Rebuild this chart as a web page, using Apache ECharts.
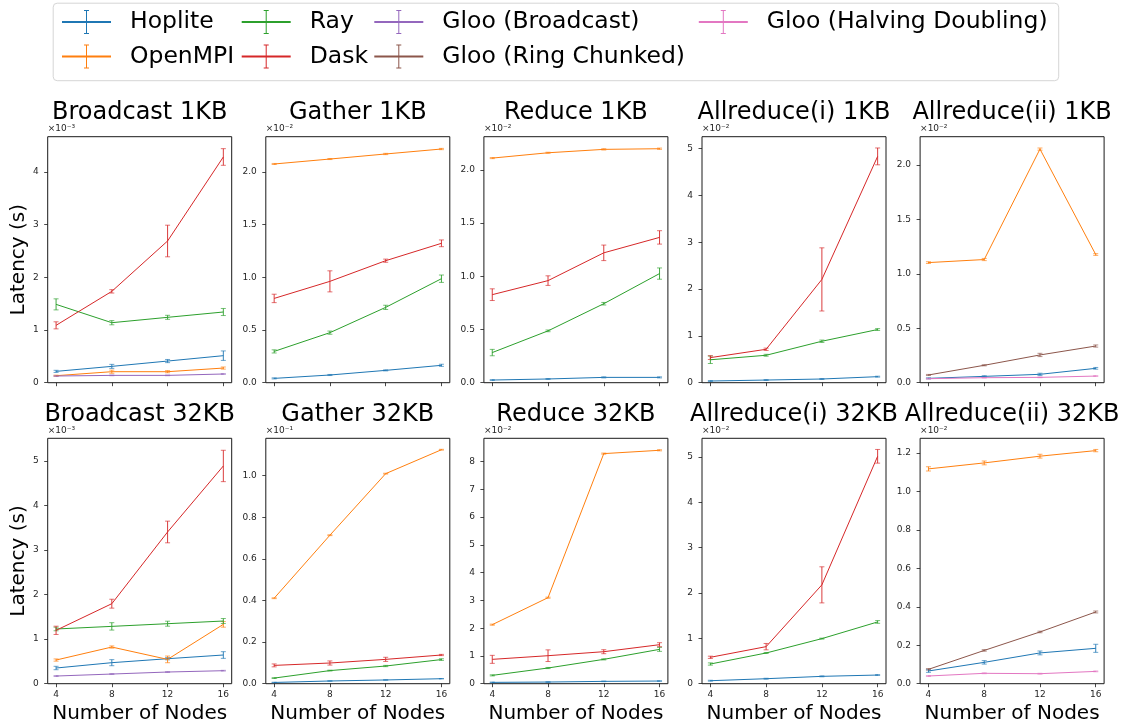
<!DOCTYPE html>
<html>
<head>
<meta charset="utf-8">
<script src="https://cdn.jsdelivr.net/npm/echarts@6/dist/echarts.min.js"></script>
<style>
  html, body { margin: 0; padding: 0; background: #ffffff; }
  #chart { width: 1128px; height: 727px; }
</style>
</head>
<body>
<div id="chart"></div>
<script>
// Node counts on the x axis of every panel
const nodes = [4, 8, 12, 16];

// Each panel: series names, mean latency and half-width of the error bar,
// both in units of the panel's power of ten (shown above its y axis).

// Broadcast 1KB (x1e-3 s)
const bc1Names = ['Hoplite', 'OpenMPI', 'Ray', 'Dask', 'Gloo (Broadcast)'];
const bc1Mean = [
  [0.215, 0.310, 0.411, 0.513],
  [0.133, 0.209, 0.209, 0.278],
  [1.487, 1.139, 1.241, 1.342],
  [1.089, 1.734, 2.690, 4.285],
  [0.127, 0.139, 0.139, 0.165]
];
const bc1Err = [
  [0.020, 0.038, 0.030, 0.090],
  [0.010, 0.030, 0.020, 0.020],
  [0.105, 0.040, 0.038, 0.067],
  [0.067, 0.032, 0.300, 0.158],
  [0.006, 0.006, 0.006, 0.006]
];

// Gather 1KB (x1e-2 s)
const ga1Names = ['Hoplite', 'OpenMPI', 'Ray', 'Dask'];
const ga1Mean = [
  [0.041, 0.073, 0.117, 0.165],
  [2.076, 2.123, 2.171, 2.218],
  [0.297, 0.475, 0.715, 0.987],
  [0.800, 0.962, 1.158, 1.323]
];
const ga1Err = [
  [0.005, 0.005, 0.005, 0.010],
  [0.005, 0.005, 0.006, 0.006],
  [0.015, 0.015, 0.020, 0.035],
  [0.040, 0.100, 0.015, 0.032]
];

// Reduce 1KB (x1e-2 s)
const re1Names = ['Hoplite', 'OpenMPI', 'Ray', 'Dask'];
const re1Mean = [
  [0.025, 0.035, 0.050, 0.050],
  [2.110, 2.160, 2.192, 2.198],
  [0.283, 0.487, 0.742, 1.025],
  [0.827, 0.959, 1.220, 1.365]
];
const re1Err = [
  [0.004, 0.004, 0.005, 0.005],
  [0.005, 0.005, 0.006, 0.006],
  [0.030, 0.008, 0.012, 0.053],
  [0.055, 0.045, 0.073, 0.063]
];

// Allreduce(i) 1KB (x1e-2 s)
const ar1s1Names = ['Hoplite', 'Ray', 'Dask'];
const ar1s1Mean = [
  [0.036, 0.057, 0.079, 0.129],
  [0.490, 0.586, 0.886, 1.136],
  [0.536, 0.714, 2.207, 4.836]
];
const ar1s1Err = [
  [0.010, 0.010, 0.010, 0.010],
  [0.080, 0.020, 0.025, 0.020],
  [0.040, 0.025, 0.675, 0.180]
];

// Allreduce(ii) 1KB (x1e-2 s)
const ar2s1Names = ['Hoplite', 'OpenMPI', 'Gloo (Ring Chunked)', 'Gloo (Halving Doubling)'];
const ar2s1Mean = [
  [0.040, 0.058, 0.077, 0.132],
  [1.104, 1.132, 2.147, 1.178],
  [0.071, 0.160, 0.255, 0.337],
  [0.037, 0.046, 0.049, 0.061]
];
const ar2s1Err = [
  [0.005, 0.006, 0.010, 0.008],
  [0.008, 0.010, 0.010, 0.008],
  [0.005, 0.005, 0.015, 0.010],
  [0.003, 0.003, 0.003, 0.003]
];

// Broadcast 32KB (x1e-3 s)
const bc32Names = ['Hoplite', 'OpenMPI', 'Ray', 'Dask', 'Gloo (Broadcast)'];
const bc32Mean = [
  [0.352, 0.472, 0.561, 0.644],
  [0.531, 0.823, 0.546, 1.332],
  [1.228, 1.287, 1.347, 1.407],
  [1.198, 1.796, 3.406, 4.888],
  [0.172, 0.217, 0.262, 0.292]
];
const bc32Err = [
  [0.038, 0.068, 0.025, 0.075],
  [0.025, 0.025, 0.075, 0.063],
  [0.040, 0.083, 0.056, 0.056],
  [0.093, 0.100, 0.243, 0.352],
  [0.008, 0.008, 0.008, 0.008]
];

// Gather 32KB (x1e-1 s)
const ga32Names = ['Hoplite', 'OpenMPI', 'Ray', 'Dask'];
const ga32Mean = [
  [0.006, 0.013, 0.018, 0.024],
  [0.411, 0.714, 1.010, 1.125],
  [0.027, 0.063, 0.085, 0.116],
  [0.088, 0.0995, 0.117, 0.138]
];
const ga32Err = [
  [0.001, 0.001, 0.001, 0.001],
  [0.002, 0.002, 0.002, 0.002],
  [0.002, 0.002, 0.003, 0.004],
  [0.007, 0.010, 0.010, 0.003]
];

// Reduce 32KB (x1e-2 s)
const re32Names = ['Hoplite', 'OpenMPI', 'Ray', 'Dask'];
const re32Mean = [
  [0.048, 0.060, 0.084, 0.096],
  [2.126, 3.099, 8.288, 8.408],
  [0.300, 0.565, 0.877, 1.237],
  [0.877, 1.009, 1.153, 1.405]
];
const re32Err = [
  [0.010, 0.010, 0.010, 0.010],
  [0.020, 0.020, 0.020, 0.020],
  [0.020, 0.020, 0.020, 0.072],
  [0.144, 0.210, 0.072, 0.072]
];

// Allreduce(i) 32KB (x1e-2 s)
const ar1s32Names = ['Hoplite', 'Ray', 'Dask'];
const ar1s32Mean = [
  [0.066, 0.110, 0.162, 0.191],
  [0.434, 0.677, 0.994, 1.362],
  [0.582, 0.817, 2.180, 5.015]
];
const ar1s32Err = [
  [0.010, 0.010, 0.010, 0.010],
  [0.025, 0.010, 0.010, 0.030],
  [0.025, 0.070, 0.398, 0.151]
];

// Allreduce(ii) 32KB (x1e-2 s)
const ar2s32Names = ['Hoplite', 'OpenMPI', 'Gloo (Ring Chunked)', 'Gloo (Halving Doubling)'];
const ar2s32Mean = [
  [0.066, 0.111, 0.160, 0.184],
  [1.117, 1.148, 1.183, 1.212],
  [0.0746, 0.173, 0.269, 0.373],
  [0.040, 0.054, 0.052, 0.064]
];
const ar2s32Err = [
  [0.007, 0.009, 0.010, 0.021],
  [0.011, 0.010, 0.010, 0.006],
  [0.004, 0.004, 0.004, 0.005],
  [0.002, 0.002, 0.002, 0.002]
];

// Y tick values per panel (in the panel's units)
const ticksInt5 = [0, 1, 2, 3, 4, 5];
const ticksHalf = [0, 0.5, 1.0, 1.5, 2.0];
const bc1Ticks = [0, 1, 2, 3, 4];
const ga32Ticks = [0, 0.2, 0.4, 0.6, 0.8, 1.0];
const re32Ticks = [0, 1, 2, 3, 4, 5, 6, 7, 8];
const ar2s32Ticks = [0, 0.2, 0.4, 0.6, 0.8, 1.0, 1.2];

// Panel order: top row 1KB, bottom row 32KB
const panels = [
  { title: 'Broadcast 1KB',     exp: -3, yMax: 4.67,  ticks: bc1Ticks,    names: bc1Names,    mean: bc1Mean,    err: bc1Err },
  { title: 'Gather 1KB',        exp: -2, yMax: 2.335, ticks: ticksHalf,   names: ga1Names,    mean: ga1Mean,    err: ga1Err },
  { title: 'Reduce 1KB',        exp: -2, yMax: 2.311, ticks: ticksHalf,   names: re1Names,    mean: re1Mean,    err: re1Err },
  { title: 'Allreduce(i) 1KB',  exp: -2, yMax: 5.257, ticks: ticksInt5,   names: ar1s1Names,  mean: ar1s1Mean,  err: ar1s1Err },
  { title: 'Allreduce(ii) 1KB', exp: -2, yMax: 2.261, ticks: ticksHalf,   names: ar2s1Names,  mean: ar2s1Mean,  err: ar2s1Err },
  { title: 'Broadcast 32KB',    exp: -3, yMax: 5.509, ticks: ticksInt5,   names: bc32Names,   mean: bc32Mean,   err: bc32Err },
  { title: 'Gather 32KB',       exp: -1, yMax: 1.180, ticks: ga32Ticks,   names: ga32Names,   mean: ga32Mean,   err: ga32Err },
  { title: 'Reduce 32KB',       exp: -2, yMax: 8.84,  ticks: re32Ticks,   names: re32Names,   mean: re32Mean,   err: re32Err },
  { title: 'Allreduce(i) 32KB', exp: -2, yMax: 5.412, ticks: ticksInt5,   names: ar1s32Names, mean: ar1s32Mean, err: ar1s32Err },
  { title: 'Allreduce(ii) 32KB',exp: -2, yMax: 1.276, ticks: ar2s32Ticks, names: ar2s32Names, mean: ar2s32Mean, err: ar2s32Err }
];

// Legend columns (filled top to bottom)
const legendColumns = [
  ['Hoplite', 'OpenMPI'],
  ['Ray', 'Dask'],
  ['Gloo (Broadcast)', 'Gloo (Ring Chunked)'],
  ['Gloo (Halving Doubling)']
];

const methodColors = {
  'Hoplite': '#1f77b4',
  'OpenMPI': '#ff7f0e',
  'Ray': '#2ca02c',
  'Dask': '#d62728',
  'Gloo (Broadcast)': '#9467bd',
  'Gloo (Ring Chunked)': '#8c564b',
  'Gloo (Halving Doubling)': '#e377c2'
};

// ---- layout ----
const FONT = 'DejaVu Sans';
const colLeft = [47.7, 265.8, 483.9, 702.0, 920.1];
const gridWidth = 184;
const rowTop = [136.7, 438.3];
const rowHeight = [246, 245.4];
const legendLeft = [62, 241.7, 374.3, 698.8];

const supDigits = { '-': '\u207B', '0': '\u2070', '1': '\u00B9', '2': '\u00B2', '3': '\u00B3',
  '4': '\u2074', '5': '\u2075', '6': '\u2076', '7': '\u2077', '8': '\u2078', '9': '\u2079' };
function powerLabel(exp) {
  return '\u00D710' + String(exp).split('').map(c => supDigits[c]).join('');
}

// Vertical error bar with caps, drawn through the panel's own axes
function renderErrorBar(params, api) {
  const x = api.value(0);
  const hi = api.coord([x, api.value(2)]);
  const lo = api.coord([x, api.value(1)]);
  const color = api.visual('color');
  const hw = 2.5;
  const barStyle = { stroke: color, lineWidth: 1, opacity: 0.9 };
  const capStyle = { stroke: color, lineWidth: 1, opacity: 0.65 };
  return {
    type: 'group',
    children: [
      { type: 'line', shape: { x1: hi[0], y1: hi[1], x2: lo[0], y2: lo[1] }, style: barStyle },
      { type: 'line', shape: { x1: hi[0] - hw, y1: hi[1], x2: hi[0] + hw, y2: hi[1] }, style: capStyle },
      { type: 'line', shape: { x1: lo[0] - hw, y1: lo[1], x2: lo[0] + hw, y2: lo[1] }, style: capStyle }
    ]
  };
}

const grids = [], xAxes = [], yAxes = [], titles = [], series = [];

panels.forEach((p, i) => {
  const row = Math.floor(i / 5), col = i % 5;
  grids.push({
    left: colLeft[col], top: rowTop[row], width: gridWidth, height: rowHeight[row],
    show: true, borderColor: '#1a1a1a', borderWidth: 1, containLabel: false
  });
  const decimals = p.ticks.some(v => Math.round(v) !== v) ? 1 : 0;
  xAxes.push({
    type: 'value', gridIndex: i, min: 3.4, max: 16.6,
    axisLine: { show: false },
    splitLine: { show: false },
    axisTick: { show: true, length: 3.5, customValues: nodes, lineStyle: { color: '#1a1a1a', width: 0.8 } },
    axisLabel: {
      show: row === 1, customValues: nodes, margin: 6,
      fontFamily: FONT, fontSize: 9, color: '#262626'
    },
    name: row === 1 ? 'Number of Nodes' : '',
    nameLocation: 'middle', nameGap: 20,
    nameTextStyle: { fontFamily: FONT, fontSize: 20, color: '#000' }
  });
  yAxes.push({
    type: 'value', gridIndex: i, min: 0, max: p.yMax,
    axisLine: { show: false },
    splitLine: { show: false },
    axisTick: { show: true, length: 3.5, customValues: p.ticks, lineStyle: { color: '#1a1a1a', width: 0.8 } },
    axisLabel: {
      customValues: p.ticks, margin: 9,
      fontFamily: FONT, fontSize: 9, color: '#262626',
      formatter: v => Number(v).toFixed(decimals)
    },
    name: col === 0 ? 'Latency (s)' : '',
    nameLocation: 'middle', nameGap: 19, nameRotate: 90,
    nameTextStyle: { fontFamily: FONT, fontSize: 20, color: '#000' }
  });
  titles.push({
    text: p.title, left: colLeft[col] + gridWidth / 2, top: row === 0 ? 101 : 402.6,
    textAlign: 'center', padding: 0,
    textStyle: { fontFamily: FONT, fontSize: 24, fontWeight: 'normal', color: '#000' }
  });
  titles.push({
    text: powerLabel(p.exp), left: colLeft[col], top: rowTop[row] - 12.5, padding: 0,
    textStyle: { fontFamily: FONT, fontSize: 9, fontWeight: 'normal', color: '#262626' }
  });
  p.names.forEach((name, j) => {
    const color = methodColors[name];
    series.push({
      type: 'line', name, xAxisIndex: i, yAxisIndex: i,
      data: nodes.map((x, k) => [x, p.mean[j][k]]),
      symbol: 'none', silent: true,
      lineStyle: { width: 1, color },
      itemStyle: { color },
      z: 2
    });
    series.push({
      type: 'custom', name, xAxisIndex: i, yAxisIndex: i,
      data: nodes.map((x, k) => [x, p.mean[j][k] - p.err[j][k], p.mean[j][k] + p.err[j][k]]),
      encode: { x: 0, y: [1, 2] },
      renderItem: renderErrorBar,
      itemStyle: { color },
      silent: true,
      z: 2
    });
  });
});

// Legend handle: horizontal line crossed by a capped error bar
const errIcon = 'path://M0,11H49V13H0Z M24,0H25V24H24Z M22,0H27V1H22Z M22,23H27V24H22Z';

const legends = legendColumns.map((colNames, c) => ({
  orient: 'vertical', left: legendLeft[c], top: 10, padding: 0,
  itemGap: 10.5, itemWidth: 49, itemHeight: 24,
  icon: errIcon,
  itemStyle: { borderWidth: 0 },
  data: colNames.map(n => ({ name: n, itemStyle: { color: methodColors[n], borderWidth: 0 } })),
  textStyle: { fontFamily: FONT, fontSize: 23.5, color: '#000', padding: [0, 0, 0, 14] }
}));

const chart = echarts.init(document.getElementById('chart'), null, { renderer: 'canvas' });
chart.setOption({
  backgroundColor: '#ffffff',
  animation: false,
  title: titles,
  legend: legends,
  grid: grids,
  xAxis: xAxes,
  yAxis: yAxes,
  series: series,
  graphic: [{
    type: 'rect', left: 52.7, top: 2.7, z: -1,
    shape: { width: 1005.5, height: 77.5, r: 4 },
    style: { fill: '#ffffff', stroke: '#d5d5d5', lineWidth: 1 }
  }]
});
</script>
</body>
</html>
